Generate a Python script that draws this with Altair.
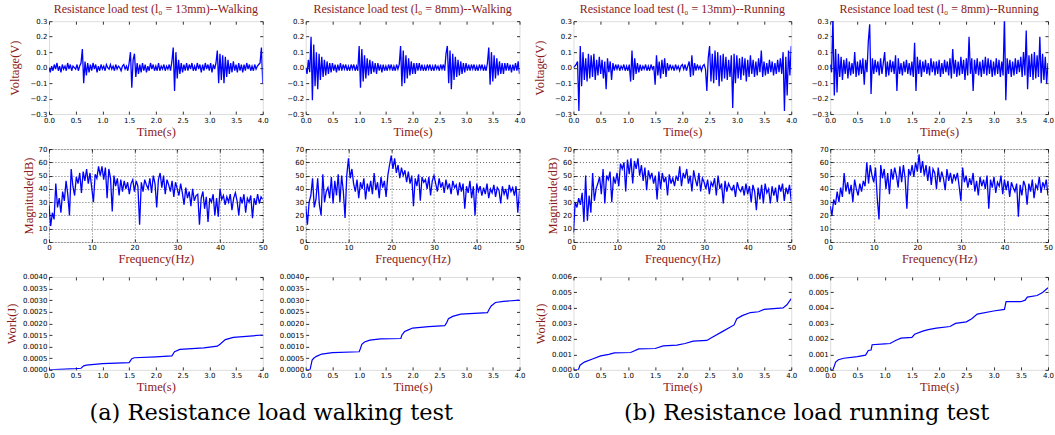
import altair as alt
import pandas as pd

# ---------------------------------------------------------------- data
VOLT_STEP = 0.025   # s between voltage samples
FREQ_STEP = 0.4     # Hz between spectrum bins

volt_walk_13 = [
    0.00, -0.03, 0.01, -0.02, 0.02, -0.01, 0.03, -0.02, 0.01, -0.03,
    0.02, -0.01, 0.01, -0.02, 0.03, -0.01, 0.02, -0.02, 0.01, 0.00,
    -0.01, 0.02, -0.02, 0.01, 0.03, 0.12, -0.10, 0.04, -0.05, 0.03,
    -0.03, 0.02, -0.02, 0.03, -0.01, 0.02, -0.03, 0.01, -0.02, 0.02,
    -0.01, 0.01, -0.02, 0.02, 0.00, -0.01, 0.02, -0.01, 0.01, -0.02,
    0.02, -0.01, 0.01, 0.00, -0.02, 0.01, 0.02, -0.01, 0.01, -0.02,
    0.03, 0.10, -0.13, 0.05, 0.09, -0.06, 0.03, -0.04, 0.02, -0.03,
    0.03, -0.02, 0.02, -0.03, 0.01, -0.02, 0.03, -0.01, 0.02, -0.02,
    0.01, -0.02, 0.03, -0.02, 0.01, -0.01, 0.02, -0.02, 0.01, -0.01,
    0.02, -0.02, 0.04, 0.13, -0.15, 0.10, -0.07, 0.05, -0.04, 0.03,
    -0.03, 0.02, -0.02, 0.03, -0.02, 0.02, -0.01, 0.03, -0.02, 0.01,
    -0.02, 0.03, -0.01, 0.02, -0.03, 0.02, -0.02, 0.03, -0.01, 0.02,
    -0.02, 0.03, -0.03, 0.02, -0.01, 0.03, 0.11, -0.10, 0.09, -0.08,
    0.08, -0.10, 0.07, -0.06, 0.05, -0.04, 0.03, -0.03, 0.04, -0.02,
    0.02, -0.03, 0.03, -0.02, 0.02, -0.03, 0.02, -0.02, 0.03, -0.01,
    0.02, -0.02, 0.01, -0.02, 0.02, -0.01, 0.01, 0.02, 0.03, 0.13,
    -0.10,
]
volt_walk_8 = [
    0.00, -0.04, 0.05, -0.03, 0.20, -0.21, 0.15, -0.12, 0.10, -0.14,
    0.09, -0.08, 0.07, -0.06, 0.05, -0.05, 0.04, -0.04, 0.03, -0.03,
    0.03, -0.02, 0.02, -0.03, 0.02, -0.02, 0.03, -0.02, 0.02, -0.01,
    0.02, -0.02, 0.01, -0.02, 0.02, -0.01, 0.02, -0.02, 0.01, -0.02,
    0.14, -0.13, 0.12, -0.09, 0.08, -0.07, 0.06, -0.05, 0.05, -0.04,
    0.04, -0.03, 0.03, -0.04, 0.03, -0.02, 0.02, -0.03, 0.02, -0.02,
    0.01, -0.02, 0.02, -0.01, 0.02, -0.02, 0.01, -0.02, 0.02, -0.01,
    0.02, 0.14, -0.12, 0.11, -0.10, 0.08, -0.07, 0.06, -0.05, 0.04,
    -0.04, 0.03, -0.04, 0.03, -0.02, 0.03, -0.02, 0.02, -0.02, 0.01,
    -0.02, 0.02, -0.01, 0.02, -0.02, 0.01, -0.02, 0.02, -0.01, 0.01,
    -0.02, 0.02, -0.01, 0.02, -0.02, 0.09, 0.14, -0.10, 0.11, -0.14,
    0.09, -0.08, 0.07, -0.06, 0.05, -0.05, 0.04, -0.04, 0.03, -0.03,
    0.03, -0.02, 0.02, -0.02, 0.02, -0.01, 0.02, -0.02, 0.01, -0.02,
    0.02, -0.01, 0.02, -0.02, 0.01, -0.02, 0.03, 0.13, -0.11, 0.10,
    -0.09, 0.08, -0.07, 0.06, -0.05, 0.04, -0.04, 0.03, -0.04, 0.03,
    -0.02, 0.03, -0.02, 0.02, -0.03, 0.02, -0.02, 0.03, -0.02, 0.04,
    -0.04,
]
volt_run_13 = [
    0.00, 0.01, 0.02, 0.04, -0.28, 0.14, -0.12, 0.10, -0.08, 0.06,
    -0.09, 0.09, -0.07, 0.08, -0.06, 0.09, -0.08, 0.05, -0.05, 0.07,
    -0.04, 0.05, -0.07, 0.04, -0.14, 0.06, -0.03, 0.04, -0.08, 0.03,
    -0.02, 0.02, -0.01, 0.02, -0.02, 0.01, -0.01, 0.02, -0.02, 0.01,
    -0.02, 0.02, -0.09, 0.11, -0.08, 0.06, -0.04, 0.03, -0.03, 0.02,
    -0.02, 0.01, -0.01, 0.02, -0.02, 0.01, -0.02, 0.02, -0.01, 0.01,
    -0.11, 0.08, -0.05, 0.04, -0.07, 0.05, -0.04, 0.06, -0.06, 0.03,
    -0.02, 0.02, -0.01, 0.01, -0.02, 0.02, -0.01, 0.01, -0.02, 0.01,
    0.02, -0.01, 0.02, -0.02, 0.01, 0.04, -0.06, 0.08, -0.05, 0.03,
    -0.02, 0.02, -0.01, 0.01, -0.02, 0.01, 0.02, -0.01, -0.15, 0.06,
    0.14, -0.09, 0.09, -0.10, 0.11, -0.08, 0.10, -0.12, 0.08, -0.09,
    0.09, -0.07, 0.07, -0.08, 0.05, -0.06, 0.08, -0.26, 0.09, -0.10,
    0.08, -0.07, 0.06, -0.08, 0.07, -0.05, 0.06, -0.09, 0.05, -0.06,
    0.08, -0.04, 0.05, -0.06, 0.04, -0.05, 0.06, -0.03, 0.11, -0.06,
    0.04, -0.05, 0.03, -0.04, 0.05, -0.03, 0.04, -0.05, 0.03, -0.04,
    0.05, -0.03, 0.06, -0.04, 0.10, -0.28, 0.07, -0.18, 0.11, -0.05,
    0.14,
]
volt_run_8 = [
    0.02, -0.03, 0.33, -0.18, 0.12, -0.16, 0.09, -0.06, 0.07, -0.08,
    0.05, -0.04, 0.06, -0.07, 0.04, -0.05, 0.03, -0.04, 0.10, -0.06,
    0.04, -0.05, 0.05, -0.04, 0.06, -0.11, 0.05, -0.03, 0.17, 0.28,
    -0.17, 0.06, -0.04, 0.05, -0.03, 0.04, -0.05, 0.06, -0.04, 0.03,
    0.10, -0.06, 0.04, -0.05, 0.05, -0.03, 0.04, -0.04, 0.08, -0.15,
    0.06, -0.04, 0.03, -0.05, 0.04, -0.03, 0.05, -0.04, 0.03, -0.05,
    0.04, -0.06, 0.16, -0.15, 0.07, -0.04, 0.05, -0.06, 0.04, -0.03,
    0.05, -0.04, 0.03, -0.05, 0.06, -0.03, 0.04, -0.05, 0.04, -0.04,
    0.05, -0.06, 0.03, -0.04, 0.05, -0.03, 0.04, -0.05, 0.06, -0.07,
    0.12, -0.04, 0.05, -0.06, 0.04, -0.05, 0.07, -0.04, 0.05, -0.08,
    0.06, -0.05, 0.20, -0.04, 0.06, -0.15, 0.05, -0.04, 0.06, -0.05,
    0.04, -0.06, 0.05, -0.04, 0.07, -0.05, 0.06, -0.04, 0.05, -0.06,
    0.04, -0.05, 0.06, -0.04, 0.05, -0.06, 0.04, -0.05, 0.33, -0.21,
    0.06, -0.04, 0.05, -0.06, 0.04, -0.05, 0.06, -0.04, 0.05, -0.03,
    0.07, -0.06, 0.10, -0.05, 0.24, -0.14, 0.08, -0.06, 0.09, -0.08,
    0.10, -0.07, 0.08, -0.06, 0.20, -0.10, 0.09, -0.08, 0.07, -0.10,
    0.03,
]

mag_walk_13 = [
    28, 12, 22, 17, 44, 26, 33, 22, 38, 31,
    46, 36, 20, 55, 42, 35, 49, 44, 52, 37,
    53, 46, 55, 44, 52, 41, 30, 51, 48, 57,
    50, 57, 47, 56, 33, 55, 48, 23, 50, 42,
    48, 35, 47, 38, 46, 40, 45, 36, 44, 47,
    38, 46, 42, 13, 45, 38, 47, 43, 40, 48,
    37, 50, 44, 26, 47, 52, 41, 50, 36, 47,
    43, 38, 46, 34, 45, 40, 35, 44, 37, 28,
    41, 33, 38, 27, 40, 31, 35, 36, 13, 33,
    38, 25, 34, 15, 33, 30, 36, 20, 33, 19,
    40, 32, 35, 28, 34, 30, 36, 24, 33, 37,
    31, 20, 34, 29, 36, 22, 33, 30, 35, 18,
    33, 28, 36, 29, 34, 32,
]
mag_walk_8 = [
    27, 13, 30, 35, 48, 26, 32, 48, 28, 20,
    51, 30, 38, 41, 33, 49, 29, 46, 35, 51,
    30, 50, 38, 18, 50, 63, 48, 55, 44, 38,
    47, 33, 45, 40, 48, 32, 44, 38, 46, 36,
    52, 39, 45, 33, 49, 41, 46, 34, 50, 58,
    65, 55, 63, 52, 58, 48, 56, 50, 54, 45,
    53, 44, 50, 27, 48, 42, 51, 31, 49, 45,
    47, 40, 49, 35, 46, 50, 44, 38, 48, 41,
    45, 37, 47, 40, 44, 36, 46, 41, 43, 35,
    45, 38, 44, 25, 42, 37, 46, 33, 42, 20,
    44, 38, 42, 35, 41, 36, 44, 33, 40, 37,
    43, 34, 41, 39, 29, 42, 36, 40, 32, 43,
    38, 41, 35, 42, 22, 39,
]
mag_run_13 = [
    7, 30, 26, 33, 28, 37, 15, 50, 16, 35,
    22, 52, 31, 40, 44, 49, 36, 55, 29, 50,
    47, 53, 30, 49, 44, 52, 42, 59, 55, 60,
    38, 62, 51, 63, 44, 61, 55, 63, 50, 58,
    46, 56, 39, 54, 48, 52, 44, 50, 32, 53,
    40, 52, 45, 49, 35, 51, 44, 48, 42, 50,
    46, 57, 42, 52, 48, 55, 44, 50, 38, 54,
    47, 42, 52, 38, 48, 45, 40, 47, 36, 45,
    42, 48, 35, 50, 40, 44, 29, 46, 38, 44,
    41, 39, 43, 34, 45, 40, 38, 42, 35, 44,
    36, 42, 30, 43, 38, 24, 41, 32, 43, 29,
    44, 37, 40, 29, 42, 35, 41, 30, 43, 38,
    44, 31, 41, 36, 43, 31,
]
mag_run_8 = [
    27, 20, 32, 28, 38, 30, 41, 34, 52, 38,
    45, 36, 43, 30, 47, 40, 35, 44, 38, 46,
    42, 60, 44, 58, 50, 45, 56, 33, 17, 58,
    48, 55, 40, 52, 36, 55, 47, 56, 50, 41,
    57, 45, 58, 48, 25, 55, 50, 58, 49, 60,
    53, 66, 52, 61, 50, 58, 46, 57, 43, 55,
    52, 40, 56, 45, 53, 48, 39, 55, 46, 52,
    44, 51, 47, 52, 42, 31, 56, 45, 50, 41,
    48, 43, 52, 38, 46, 35, 49, 42, 47, 40,
    50, 25, 47, 41, 49, 37, 45, 42, 50, 36,
    47, 39, 46, 34, 45, 41, 38, 44, 19, 43,
    35, 46, 42, 28, 44, 38, 47, 33, 43, 40,
    49, 37, 45, 41, 47, 35,
]

work_walk_13_t = [0, 0.5, 0.6, 0.65, 0.7, 1.0, 1.5, 1.55, 1.6, 2.0, 2.3, 2.35,
                  2.45, 2.6, 2.9, 3.15, 3.2, 3.3, 3.45, 4.0]
work_walk_13_w = [0, 0.00005, 0.00007, 0.00017, 0.0002, 0.00027, 0.00031, 0.00048,
                  0.00052, 0.00056, 0.0006, 0.00078, 0.00088, 0.0009, 0.00095,
                  0.00102, 0.0011, 0.0013, 0.0014, 0.0015]

work_walk_8_t = [0, 0.08, 0.1, 0.12, 0.15, 0.2, 0.3, 0.5, 1.0, 1.02, 1.05, 1.1, 1.2,
                 1.4, 1.78, 1.8, 1.85, 1.9, 2.0, 2.3, 2.6, 2.63, 2.67, 2.75, 2.9,
                 3.4, 3.43, 3.47, 3.55, 3.7, 4.0]
work_walk_8_w = [0, 0, 0.0002, 0.00042, 0.0005, 0.00058, 0.00068, 0.00074, 0.00078,
                 0.0009, 0.0011, 0.0012, 0.00128, 0.00133, 0.00135, 0.0015, 0.00165,
                 0.0017, 0.0018, 0.00186, 0.0019, 0.002, 0.0022, 0.0023, 0.0024,
                 0.00246, 0.0026, 0.00275, 0.0029, 0.00295, 0.003]

work_run_13_t = [0, 0.09, 0.12, 0.2, 0.35, 0.5, 0.65, 0.75, 1.05, 1.2, 1.5, 1.65,
                 1.9, 2.05, 2.2, 2.45, 2.55, 2.75, 2.95, 3.0, 3.1, 3.25, 3.4, 3.5,
                 3.85, 3.92, 4.0]
work_run_13_w = [0, 0, 0.0003, 0.0005, 0.0007, 0.0009, 0.001, 0.0011, 0.00112,
                 0.00135, 0.00138, 0.00155, 0.0016, 0.0017, 0.00185, 0.0019, 0.0021,
                 0.0025, 0.0029, 0.0033, 0.0035, 0.0037, 0.00375, 0.0039, 0.004,
                 0.0042, 0.0046]

work_run_8_t = [0, 0.05, 0.1, 0.15, 0.25, 0.5, 0.65, 0.7, 0.75, 0.77, 1.0, 1.1,
                1.2, 1.3, 1.5, 1.55, 1.7, 1.8, 1.95, 2.2, 2.3, 2.5, 2.6, 2.7, 3.0,
                3.2, 3.23, 3.5, 3.58, 3.62, 3.8, 3.9, 4.0]
work_run_8_w = [0, 0, 0.0005, 0.00065, 0.00075, 0.00085, 0.00095, 0.00125, 0.00128,
                0.00162, 0.00168, 0.0017, 0.0019, 0.00205, 0.0021, 0.0023, 0.0025,
                0.0026, 0.0027, 0.0028, 0.003, 0.0031, 0.0033, 0.0036, 0.0038,
                0.0039, 0.0044, 0.0044, 0.0045, 0.0047, 0.0048, 0.005, 0.0053]

time_ticks = [0.0, 0.5, 1.0, 1.5, 2.0, 2.5, 3.0, 3.5, 4.0]
volt_ticks = [-0.3, -0.2, -0.1, 0.0, 0.1, 0.2, 0.3]
freq_ticks = [0, 10, 20, 30, 40, 50]
mag_ticks = [0, 10, 20, 30, 40, 50, 60, 70]
work_walk_ticks = [0, 0.0005, 0.001, 0.0015, 0.002, 0.0025, 0.003, 0.0035, 0.004]
work_run_ticks = [0, 0.001, 0.002, 0.003, 0.004, 0.005, 0.006]

panel_titles = [
    "Resistance load test (l₀ = 13mm)--Walking",
    "Resistance load test  (l₀ = 8mm)--Walking",
    "Resistance load test (l₀ = 13mm)--Running",
    "Resistance load test (l₀ = 8mm)--Running",
]
captions = ["(a) Resistance load walking test", "(b) Resistance load running test"]

# ---------------------------------------------------------------- style
RED = "#8b1a1a"
BLUE = "#0000ff"
TICK = 3
SERIF = "Liberation Serif"
SANS = "DejaVu Sans"
PANEL_H = 93
PANEL_W = [214, 214, 218, 218]
GAP_W = [43, 54, 39]          # blank strips between the four columns


def sampled(values, step, xname, yname):
    return pd.DataFrame({xname: [i * step for i in range(len(values))], yname: values})


def axis(values, fmt, orient, title=None, title_pad=3, grid=False, labels=True):
    kw = dict(
        values=values, orient=orient, offset=-TICK, tickSize=TICK,
        tickColor="black", tickWidth=0.8, domain=False, grid=grid,
        labels=labels, title=title,
    )
    if labels:
        kw.update(format=fmt, labelFlush=False, labelOverlap=False, labelBound=False,
                  labelFont=SANS, labelFontSize=7, labelColor="black", labelPadding=2)
    if grid:
        kw.update(gridColor="black", gridDash=[1, 2], gridWidth=0.7, gridOpacity=0.85)
    if title:
        kw.update(titleFont=SERIF, titleFontSize=12.5, titleFontWeight="normal",
                  titleColor=RED, titlePadding=title_pad)
    return alt.Axis(**kw)


def panel(df, xf, yf, xdom, ydom, xticks, yticks, xfmt, yfmt, xtitle, ytitle,
          width, grid=False, ypad=3, xpad=2, title=None, stroke=1.3):
    xs = alt.Scale(domain=xdom, nice=False, zero=False)
    ys = alt.Scale(domain=ydom, nice=False, zero=False)
    line = alt.Chart(df).mark_line(color=BLUE, strokeWidth=stroke, clip=True).encode(
        x=alt.X(xf, type="quantitative", scale=xs,
                axis=axis(xticks, xfmt, "bottom", xtitle, xpad, grid)),
        y=alt.Y(yf, type="quantitative", scale=ys,
                axis=axis(yticks, yfmt, "left", ytitle, ypad, grid)),
    )
    # tick marks on the top and right edges of the frame
    ticks = alt.Chart(df).mark_line(strokeOpacity=0).encode(
        x=alt.X(xf, type="quantitative", scale=xs,
                axis=axis(xticks, xfmt, "top", labels=False)),
        y=alt.Y(yf, type="quantitative", scale=ys,
                axis=axis(yticks, yfmt, "right", labels=False)),
    )
    props = dict(width=width, height=PANEL_H)
    if title:
        props["title"] = alt.TitleParams(title, font=SERIF, fontSize=12, fontWeight="normal",
                                         color=RED, frame="group", anchor="middle", offset=1)
    return alt.layer(line, ticks).resolve_axis(x="independent", y="independent").properties(**props)


def gap(width, caption=None, shift=0):
    props = dict(width=width, height=PANEL_H, view=alt.ViewBackground(strokeOpacity=0))
    if caption:
        props["title"] = alt.TitleParams(caption, orient="bottom", anchor="middle", frame="group",
                                         font="DejaVu Serif", fontSize=22.5, fontWeight="normal",
                                         color="black", baseline="alphabetic", offset=50, dx=shift)
    return alt.Chart(pd.DataFrame({"s": [0]})).mark_point(opacity=0).properties(**props)


volts = [volt_walk_13, volt_walk_8, volt_run_13, volt_run_8]
mags = [mag_walk_13, mag_walk_8, mag_run_13, mag_run_8]
works = [(work_walk_13_t, work_walk_13_w), (work_walk_8_t, work_walk_8_w),
         (work_run_13_t, work_run_13_w), (work_run_8_t, work_run_8_w)]

row1, row2, row3 = [], [], []
for i in range(4):
    left = i in (0, 2)
    walking = i < 2
    w = PANEL_W[i]
    row1.append(panel(sampled(volts[i], VOLT_STEP, "t", "v"), "t", "v", [0, 4], [-0.3, 0.3],
                      time_ticks, volt_ticks, ".1f", ".1f", "Time(s)",
                      "Voltage(V)" if left else None, w, ypad=8, title=panel_titles[i]))
    row2.append(panel(sampled(mags[i], FREQ_STEP, "f", "m"), "f", "m", [0, 50], [0, 70],
                      freq_ticks, mag_ticks, "d", "d", "Frequency(Hz)",
                      "Magnitude(dB)" if left else None, w, grid=True, ypad=3))
    row3.append(panel(pd.DataFrame({"t": works[i][0], "w": works[i][1]}), "t", "w", [0, 4],
                      [0, 0.004] if walking else [0, 0.006], time_ticks,
                      work_walk_ticks if walking else work_run_ticks, ".1f",
                      ".4f" if walking else ".3f", "Time(s)",
                      "Work(J)" if left else None, w, ypad=4, stroke=1.2))


def interleave(row, gaps):
    cells = []
    for i, p in enumerate(row):
        cells.append(p)
        if i < 3:
            cells.append(gaps[i])
    return cells


cells = (interleave(row1, [gap(g) for g in GAP_W])
         + interleave(row2, [gap(g) for g in GAP_W])
         + interleave(row3, [gap(GAP_W[0], captions[0], -13), gap(GAP_W[1]),
                             gap(GAP_W[2], captions[1], -4)]))

chart = alt.concat(*cells, columns=7, spacing={"row": 35, "column": 0}, bounds="flush").properties(
    padding={"left": 5, "top": 1, "right": 0, "bottom": 0}
).configure_view(stroke="black", strokeWidth=1.2).configure(background="white")

chart.save("out.html", embed_options={"renderer": "svg", "actions": False})
